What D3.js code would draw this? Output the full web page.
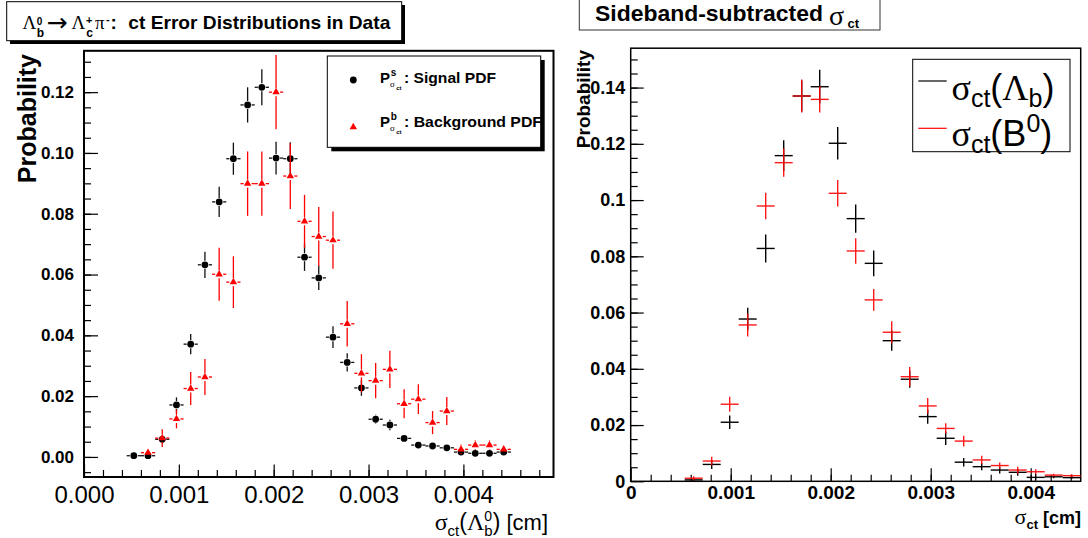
<!DOCTYPE html>
<html><head><meta charset="utf-8">
<script src="https://cdn.jsdelivr.net/npm/d3@7"></script>
<style>body{margin:0;background:#fff}svg{display:block}</style>
</head><body><svg id="c" width="1088" height="538"></svg>
<script>
// ---------------- DATA ----------------
const leftX = [0.000525,0.000675,0.000825,0.000975,0.001125,0.001275,0.001425,0.001575,0.001725,0.001875,0.002025,0.002175,0.002325,0.002475,0.002625,0.002775,0.002925,0.003075,0.003225,0.003375,0.003525,0.003675,0.003825,0.003975,0.004125,0.004275,0.004425];
const leftSignal = [0.0004,0.0004,0.0058,0.0171,0.0371,0.0632,0.0839,0.0981,0.1158,0.1216,0.0983,0.0981,0.0657,0.0589,0.0394,0.0311,0.0227,0.0124,0.0105,0.0061,0.0039,0.0036,0.0030,0.0016,0.0012,0.0012,0.0016];
const leftSignalErr = [0.0008,0.0008,0.0015,0.0025,0.0033,0.0043,0.0050,0.0053,0.0058,0.0059,0.0054,0.0054,0.0045,0.0040,0.0036,0.0030,0.0026,0.0015,0.0017,0.0010,0.0009,0.0008,0.0008,0.0006,0.0006,0.0006,0.0006];
const leftBkg = [null,0.0014,0.0062,0.0125,0.0225,0.0263,0.0601,0.0575,0.0899,0.0899,0.1200,0.0924,0.0775,0.0725,0.0713,0.0438,0.0275,0.0251,0.0288,0.0175,0.0190,0.0113,0.0151,0.0025,0.0039,0.0039,0.0025];
const leftBkgErr = [0,0.0012,0.0029,0.0031,0.0054,0.0059,0.0087,0.0085,0.0106,0.0106,0.0122,0.0108,0.0087,0.0097,0.0094,0.0075,0.0063,0.0058,0.0061,0.0048,0.0049,0.0038,0.0046,0.0016,0.0015,0.0015,0.0010];
const leftHalfBin = 0.000075;

const rightX = [0.00063,0.00081,0.00099,0.00117,0.00135,0.00153,0.00171,0.00189,0.00207,0.00225,0.00243,0.00261,0.00279,0.00297,0.00315,0.00333,0.00351,0.00369,0.00387,0.00405,0.00423,0.00441];
const rightLb = [0.0005,0.0060,0.0210,0.0577,0.0828,0.1158,0.1370,0.1403,0.1202,0.0934,0.0775,0.0500,0.0363,0.0230,0.0153,0.0068,0.0052,0.0040,0.0032,0.0014,0.0016,0.0013];
const rightLbErr = [0.0007,0.0016,0.0024,0.0040,0.0050,0.0055,0.0055,0.0060,0.0058,0.0050,0.0046,0.0036,0.0030,0.0025,0.0024,0.0015,0.0013,0.0012,0.0012,0.0012,0.0005,0.0005];
const rightB0 = [0.0011,0.0072,0.0274,0.0556,0.0979,0.1133,0.1370,0.1358,0.1024,0.0819,0.0645,0.0530,0.0372,0.0268,0.0188,0.0143,0.0076,0.0056,0.0040,0.0034,0.0022,0.0020];
const rightB0Err = [0.0007,0.0015,0.0027,0.0041,0.0047,0.0050,0.0059,0.0047,0.0047,0.0045,0.0039,0.0039,0.0034,0.0028,0.0018,0.0019,0.0015,0.0011,0.0012,0.0009,0.0005,0.0005];
const rightHalfBin = 0.00009;

const leftXTicks = [0,0.001,0.002,0.003,0.004];
const leftYTicks = [0,0.02,0.04,0.06,0.08,0.10,0.12];
const rightXTicks = [0,0.001,0.002,0.003,0.004];
const rightYTicks = [0,0.02,0.04,0.06,0.08,0.10,0.12,0.14];

// ---------------- SETUP ----------------
const SANS = "'Liberation Sans', Arial, Helvetica, sans-serif";
const SERIF = "'Liberation Serif', 'Times New Roman', serif";
const svg = d3.select("#c");
svg.append("rect").attr("width",1088).attr("height",538).attr("fill","#fff");

function txt(g, x, y, s, fs, opts) {
  opts = opts || {};
  return g.append("text").attr("x", x).attr("y", y).text(s)
    .attr("font-size", fs).attr("font-family", opts.ff || SANS)
    .attr("font-weight", opts.fw || "normal")
    .attr("text-anchor", opts.anchor || "start")
    .attr("fill", opts.fill || "#000");
}
function rich(g, x, y, segs, anchor) {
  const t = g.append("text").attr("x", x).attr("y", y).attr("text-anchor", anchor || "start");
  let cur = 0;
  segs.forEach(s => {
    const off = s.off || 0;
    const ts = t.append("tspan").text(s.t).attr("font-size", s.fs)
      .attr("font-family", s.ff || SANS).attr("font-weight", s.fw || "normal")
      .attr("dy", off - cur);
    if (s.dx) ts.attr("dx", s.dx);
    cur = off;
  });
  return t;
}

// ---------------- LEFT PANEL ----------------
const xL = d3.scaleLinear().domain([0, 0.00495]).range([84, 553.5]);
const yL = d3.scaleLinear().domain([-0.0066, 0.1336]).range([477, 50.8]);
const gL = svg.append("g");

gL.append("g").attr("transform", "translate(84,0)")
  .call(d3.axisLeft(yL).tickValues(d3.range(-0.005, 0.1336, 0.005)).tickSize(-7).tickFormat(""))
  .call(g => g.select(".domain").remove());
gL.append("g").attr("transform", "translate(0,477)")
  .call(d3.axisBottom(xL).tickValues(d3.range(0.0002, 0.00495, 0.0002)).tickSize(-7).tickFormat(""))
  .call(g => g.select(".domain").remove());
gL.append("g").attr("transform", "translate(84,0)")
  .call(d3.axisLeft(yL).tickValues(leftYTicks).tickSize(-14).tickPadding(10).tickFormat(d3.format(".2f")))
  .call(g => g.select(".domain").remove())
  .call(g => g.selectAll("text").attr("font-size", 17).attr("font-weight", "bold").attr("font-family", SANS).attr("fill", "#000"));
gL.append("g").attr("transform", "translate(0,477)")
  .call(d3.axisBottom(xL).tickValues(leftXTicks).tickSize(-12.5).tickPadding(9).tickFormat(d3.format(".3f")))
  .call(g => g.select(".domain").remove())
  .call(g => g.selectAll("text").attr("font-size", 24).attr("font-family", SANS).attr("fill", "#000"));
gL.selectAll(".tick line").attr("stroke", "#000").attr("stroke-width", 1.2);

gL.append("rect").attr("x", 84).attr("y", 50.8).attr("width", 553.5 - 84).attr("height", 477 - 50.8)
  .attr("fill", "none").attr("stroke", "#000").attr("stroke-width", 2);

function errPoints(g, xs, ys, es, hb, color, gap) {
  xs.forEach((x, i) => {
    const v = ys[i];
    if (v === null || v === undefined) return;
    const cx = xL(x), cy = yL(v);
    const top = yL(v + es[i]), bot = yL(v - es[i]);
    const segs = [];
    if (cy - gap > top) segs.push([cx, top, cx, cy - gap]);
    if (bot > cy + gap) segs.push([cx, cy + gap, cx, bot]);
    const lx = xL(x - hb), rx = xL(x + hb);
    if (cx - gap > lx) segs.push([lx, cy, cx - gap, cy]);
    if (rx > cx + gap) segs.push([cx + gap, cy, rx, cy]);
    segs.forEach(s => g.append("line").attr("x1", s[0]).attr("y1", s[1]).attr("x2", s[2]).attr("y2", s[3])
      .attr("stroke", color).attr("stroke-width", 1.3));
  });
}
const gSig = gL.append("g"), gBkg = gL.append("g");
errPoints(gSig, leftX, leftSignal, leftSignalErr, leftHalfBin, "#111", 4);
gSig.selectAll("circle").data(leftX).enter().append("circle")
  .attr("cx", d => xL(d)).attr("cy", (d, i) => yL(leftSignal[i])).attr("r", 3.4).attr("fill", "#000");
errPoints(gBkg, leftX, leftBkg, leftBkgErr, leftHalfBin, "#ff0000", 4);
const tri = d3.symbol(d3.symbolTriangle).size(24);
leftX.forEach((x, i) => {
  if (leftBkg[i] === null) return;
  gBkg.append("path").attr("d", tri()).attr("fill", "#ff0000")
    .attr("transform", `translate(${xL(x)},${yL(leftBkg[i])})`);
});

// legend
gL.append("rect").attr("x", 331.3).attr("y", 60).attr("width", 213.4).attr("height", 91.3).attr("fill", "#000");
gL.append("rect").attr("x", 327.3).attr("y", 56).attr("width", 213.4).attr("height", 91.3)
  .attr("fill", "#fff").attr("stroke", "#000").attr("stroke-width", 1);
gL.append("circle").attr("cx", 353.3).attr("cy", 80).attr("r", 3.4).attr("fill", "#000");
gL.append("path").attr("d", tri()).attr("fill", "#ff0000").attr("transform", "translate(353.3,127)");
[["s", ": Signal PDF", 83.3, 92], ["b", ": Background PDF", 127.3, 138]].forEach(r => {
  txt(gL, 380, r[2], "P", 15, {fw: "bold"});
  txt(gL, 390.7, r[2] - 7, r[0], 10, {fw: "bold"});
  txt(gL, 390, r[2] + 3.5, "σ", 9, {ff: SERIF});
  txt(gL, 396.2, r[2] + 7, "ct", 6, {fw: "bold"});
  txt(gL, 404, r[2], r[1], 15, {fw: "bold"}).attr("textLength", r[3]).attr("lengthAdjust", "spacingAndGlyphs");
});

// axis titles
txt(gL, 0, 0, "Probability", 25, {fw: "bold", anchor: "end"}).attr("transform", "translate(36,54) rotate(-90)");
rich(gL, 548, 530, [
  {t: "σ", fs: 24, ff: SERIF},
  {t: "ct", fs: 15, off: 6},
  {t: "(", fs: 23, off: 0},
  {t: "Λ", fs: 24, ff: SERIF},
  {t: "0", fs: 14, off: -9},
  {t: "b", fs: 15, off: 6, dx: -7.8},
  {t: ")", fs: 23, off: 0},
  {t: " [cm]", fs: 22, off: 0}
], "end");

// title box
svg.append("rect").attr("x", 10).attr("y", 5).attr("width", 395).attr("height", 39).attr("fill", "#000");
svg.append("rect").attr("x", 6.7).attr("y", 1.7).attr("width", 395).attr("height", 39)
  .attr("fill", "#fff").attr("stroke", "#000").attr("stroke-width", 1);
const gT = svg.append("g");
txt(gT, 22.5, 29.3, "Λ", 19, {ff: SERIF});
txt(gT, 36.7, 25, "0", 10, {fw: "bold"});
txt(gT, 36.7, 36.5, "b", 12, {fw: "bold"});
txt(gT, 46.5, 30.5, "→", 25, {ff: "'DejaVu Sans', sans-serif"});
txt(gT, 71.5, 29.3, "Λ", 19, {ff: SERIF});
txt(gT, 86, 24, "+", 11, {fw: "bold"});
txt(gT, 86.3, 36.5, "c", 12, {fw: "bold"});
txt(gT, 95, 29.3, "π", 19, {ff: SERIF});
txt(gT, 106, 22.5, "-", 11, {fw: "bold"});
txt(gT, 110.5, 29.3, ":", 19, {fw: "bold"});
txt(gT, 128.3, 29.3, "ct Error Distributions in Data", 19, {fw: "bold"})
  .attr("textLength", 262).attr("lengthAdjust", "spacingAndGlyphs");

// ---------------- RIGHT PANEL ----------------
const xR = d3.scaleLinear().domain([0, 0.0045]).range([630.7, 1080.7]);
const yR = d3.scaleLinear().domain([0, 0.154]).range([481.3, 48.2]);
const gR = svg.append("g");
gR.append("g").attr("transform", "translate(630.7,0)")
  .call(d3.axisLeft(yR).tickValues(d3.range(0.005, 0.1541, 0.005)).tickSize(-7).tickFormat(""))
  .call(g => g.select(".domain").remove());
gR.append("g").attr("transform", "translate(0,481.3)")
  .call(d3.axisBottom(xR).tickValues(d3.range(0.0002, 0.00451, 0.0002)).tickSize(-6.5).tickFormat(""))
  .call(g => g.select(".domain").remove());
const fmtRY = d => d === 0 ? "0" : String(+d.toFixed(2));
const fmtRX = d => d === 0 ? "0" : d3.format(".3f")(d);
gR.append("g").attr("transform", "translate(630.7,0)")
  .call(d3.axisLeft(yR).tickValues(rightYTicks).tickSize(-13).tickPadding(5.5).tickFormat(fmtRY))
  .call(g => g.select(".domain").remove())
  .call(g => g.selectAll("text").attr("font-size", 18).attr("font-weight", "bold").attr("font-family", SANS).attr("fill", "#000"));
gR.append("g").attr("transform", "translate(0,481.3)")
  .call(d3.axisBottom(xR).tickValues(rightXTicks).tickSize(-13).tickPadding(4).tickFormat(fmtRX))
  .call(g => g.select(".domain").remove())
  .call(g => g.selectAll("text").attr("font-size", 19).attr("font-weight", "bold").attr("font-family", SANS).attr("fill", "#000"));
gR.selectAll(".tick line").attr("stroke", "#000").attr("stroke-width", 1.2);
gR.append("rect").attr("x", 630.7).attr("y", 48.2).attr("width", 1080.7 - 630.7).attr("height", 481.3 - 48.2)
  .attr("fill", "none").attr("stroke", "#000").attr("stroke-width", 1.5);

function crosses(g, xs, ys, es, color) {
  xs.forEach((x, i) => {
    const cx = xR(x), cy = yR(ys[i]);
    g.append("line").attr("x1", xR(x - rightHalfBin)).attr("x2", xR(x + rightHalfBin)).attr("y1", cy).attr("y2", cy)
      .attr("stroke", color).attr("stroke-width", 1.4);
    g.append("line").attr("x1", cx).attr("x2", cx).attr("y1", yR(ys[i] + es[i])).attr("y2", yR(Math.max(0, ys[i] - es[i])))
      .attr("stroke", color).attr("stroke-width", 1.4);
  });
}
crosses(gR.append("g"), rightX, rightLb, rightLbErr, "#000");
crosses(gR.append("g").attr("opacity", 0.9), rightX, rightB0, rightB0Err, "#ff0000");

// right legend
gR.append("rect").attr("x", 912.7).attr("y", 59.3).attr("width", 157.3).attr("height", 92.4)
  .attr("fill", "#fff").attr("stroke", "#000").attr("stroke-width", 1);
gR.append("line").attr("x1", 918.3).attr("x2", 946.7).attr("y1", 81).attr("y2", 81).attr("stroke", "#000").attr("stroke-width", 1.2);
gR.append("line").attr("x1", 918.3).attr("x2", 946.7).attr("y1", 128.3).attr("y2", 128.3).attr("stroke", "#ff0000").attr("stroke-width", 1.2);
rich(gR, 951.5, 100, [
  {t: "σ", fs: 36, ff: SERIF},
  {t: "ct", fs: 25, off: 7},
  {t: "(", fs: 36, off: 0},
  {t: "Λ", fs: 36, ff: SERIF},
  {t: "b", fs: 25, off: 7},
  {t: ")", fs: 36, off: 0}
]);
rich(gR, 951.5, 146, [
  {t: "σ", fs: 36, ff: SERIF},
  {t: "ct", fs: 25, off: 7},
  {t: "(", fs: 36, off: 0},
  {t: "B", fs: 36},
  {t: "0", fs: 25, off: -14},
  {t: ")", fs: 36, off: 0}
]);

// right axis titles
txt(gR, 0, 0, "Probability", 19, {fw: "bold", anchor: "end"}).attr("transform", "translate(590,50) rotate(-90)");
rich(gR, 1081, 524, [
  {t: "σ", fs: 22, ff: SERIF},
  {t: "ct", fs: 13, fw: "bold", off: 5},
  {t: " [cm]", fs: 18, fw: "bold", off: 0}
], "end");

// right title box
svg.append("rect").attr("x", 579.3).attr("y", -2).attr("width", 300.7).attr("height", 32)
  .attr("fill", "#fff").attr("stroke", "#333").attr("stroke-width", 1);
txt(svg, 595, 20.5, "Sideband-subtracted", 22, {fw: "bold"})
  .attr("textLength", 228).attr("lengthAdjust", "spacingAndGlyphs");
txt(svg, 829, 24.5, "σ", 28, {ff: SERIF});
txt(svg, 847.5, 28, "ct", 13, {fw: "bold"});
</script></body></html>
